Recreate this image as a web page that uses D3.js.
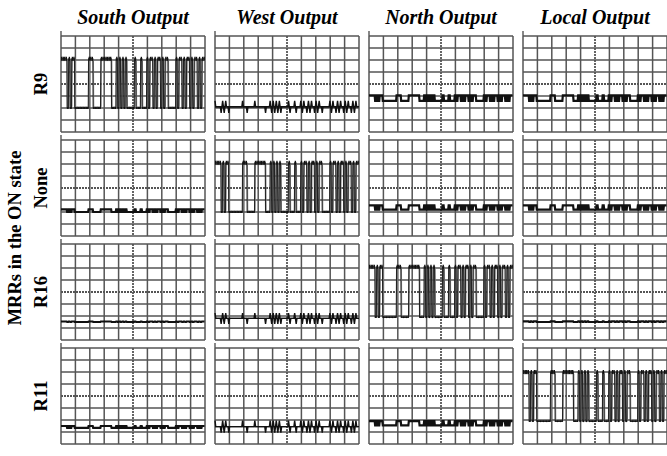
<!DOCTYPE html>
<html><head><meta charset="utf-8">
<script src="https://cdn.jsdelivr.net/npm/d3@7"></script>
<style>body{margin:0;background:#fff}svg{display:block}</style>
</head><body><svg id="c" width="667" height="456"></svg>
<script>
// ---------- data ----------
const columns = ["South Output", "West Output", "North Output", "Local Output"];
const rowLabels = ["R9", "None", "R16", "R11"];
const yTitle = "MRRs in the ON state";
// common data stream (one value per bit slot across the screen)
const bits = [1,1,1,1, 0,1,0,1,1,0, 0,0,0,0,0,0,0,0, 1,1,1, 0,0,0,0,0, 1,1,1,1,1,1,1, 0,0,0,
  1,0,1,0,1,0,1,0,0, 0,0,0,1,0,0,0,1,0,0,0, 1,0,1,1,0,1,0,1,1,0,1,0,1,1, 0,0,0,0,0,
  1,0,1,1,0,1,0,1,1,0,1,0,1,1,0,1,0,1,1];
// trace kind per row (MRR ON) x column (output)
const traceKind = [
  ["on", "spike", "copy", "copy"],
  ["copy", "on", "copy", "copy"],
  ["copy", "spike", "on", "copy"],
  ["copy", "spike", "copy", "on"]];
// low level of each trace, divisions above bottom of screen
const baseLevel = [
  [2.0, 2.1, 2.6, 2.6],
  [2.0, 2.0, 2.2, 2.2],
  [1.5, 1.8, 1.9, 1.5],
  [1.35, 1.45, 1.55, 1.9]];
// swing of each trace, divisions
const swing = [
  [4.1, 0.5, 0.45, 0.45],
  [0.22, 4.1, 0.35, 0.35],
  [0.04, 0.45, 4.2, 0.06],
  [0.15, 0.5, 0.35, 4.1]];
const xDivs = d3.range(11);
const yDivs = d3.range(9);

// ---------- layout ----------
const svg = d3.select("#c");
const colScale = d3.scaleBand().domain(columns).range([61, 667]).paddingInner(10 / 154);
const rowScale = d3.scaleBand().domain(rowLabels).range([36, 444]).paddingInner(8 / 104);
const W = colScale.bandwidth(), H = rowScale.bandwidth();
const gx = d3.scaleLinear().domain([0, 10]).range([0, W]);
const gy = d3.scaleLinear().domain([0, 8]).range([H, 0]);
const tx = d3.scaleLinear().domain([0, bits.length]).range([0, W]);

const serif = "'Liberation Serif','Times New Roman',serif";
const gridColor = "#555";

// column titles
svg.selectAll("text.col").data(columns).join("text")
  .attr("class", "col")
  .attr("x", d => colScale(d) + W / 2).attr("y", 24)
  .attr("text-anchor", "middle")
  .style("font-family", serif).style("font-weight", "bold").style("font-style", "italic")
  .style("font-size", "20px").text(d => d);

// row labels
svg.selectAll("text.row").data(rowLabels).join("text")
  .attr("class", "row")
  .attr("transform", d => `translate(47,${rowScale(d) + H / 2}) rotate(-90)`)
  .attr("text-anchor", "middle")
  .style("font-family", serif).style("font-weight", "bold")
  .style("font-size", "18.5px").text(d => d);

svg.append("text")
  .attr("transform", `translate(21,${238}) rotate(-90)`)
  .attr("text-anchor", "middle")
  .style("font-family", serif).style("font-weight", "bold")
  .style("font-size", "18.5px").text(yTitle);

const line = d3.line().x(d => tx(d[0])).y(d => gy(d[1]));

rowLabels.forEach((r, ri) => {
  columns.forEach((c, ci) => {
    const g = svg.append("g").attr("transform", `translate(${colScale(c)},${rowScale(r)})`);
    // grid
    g.selectAll("line.v").data(xDivs).join("line")
      .attr("x1", d => gx(d)).attr("x2", d => gx(d)).attr("y1", 0).attr("y2", H)
      .attr("stroke", gridColor).attr("stroke-width", d => d === 5 ? 1.8 : 1.5)
      .attr("stroke-dasharray", d => d === 5 ? "2,1" : null);
    g.selectAll("line.h").data(yDivs).join("line")
      .attr("x1", 0).attr("x2", W).attr("y1", d => gy(d)).attr("y2", d => gy(d))
      .attr("stroke", gridColor).attr("stroke-width", d => d === 4 ? 1.8 : 1.5)
      .attr("stroke-dasharray", d => d === 4 ? "2,1" : null);
    g.append("line").attr("x1", 0).attr("x2", 0).attr("y1", -5).attr("y2", 0)
      .attr("stroke", gridColor).attr("stroke-width", 1.4);

    const kind = traceKind[ri][ci];
    const b0 = baseLevel[ri][ci], sw = swing[ri][ci];
    if (kind === "on") {
      const pts = [], ghost = [];
      bits.forEach((b, i) => {
        const lv = b0 + sw * b;
        pts.push([i, lv], [i + 0.8, lv]);
        ghost.push([i + 0.4, lv + (b ? -0.15 : 0.1)], [i + 1.2, lv + (b ? -0.15 : 0.1)]);
      });
      g.append("path").attr("d", line(ghost)).attr("fill", "none")
        .attr("stroke", "#8a8a8a").attr("stroke-width", 1);
      g.append("path").attr("d", line(pts)).attr("fill", "none")
        .attr("stroke", "#222").attr("stroke-width", 1.1);
      // thick noisy high / low rails
      bits.forEach((b, i) => {
        const lv = b0 + sw * b;
        g.append("line").attr("x1", tx(i)).attr("x2", tx(i + 0.9))
          .attr("y1", gy(lv)).attr("y2", gy(lv))
          .attr("stroke", "#111").attr("stroke-width", b ? 4 : 1.8);
      });
    } else if (kind === "copy") {
      const pts = [];
      bits.forEach((b, i) => { const lv = b0 + sw * b; pts.push([i, lv], [i + 0.7, lv]); });
      g.append("path").attr("d", line(pts)).attr("fill", "none")
        .attr("stroke", "#111").attr("stroke-width", 2.2);
    } else {
      const pts = [];
      bits.forEach((b, i) => {
        const prev = i ? bits[i - 1] : 0;
        pts.push([i, b0 + sw * (b - prev)], [i + 0.5, b0]);
      });
      g.append("path").attr("d", line(pts)).attr("fill", "none")
        .attr("stroke", "#111").attr("stroke-width", 1.4);
      g.append("line").attr("x1", 0).attr("x2", W).attr("y1", gy(b0)).attr("y2", gy(b0))
        .attr("stroke", "#111").attr("stroke-width", 1.4);
    }
  });
});
</script></body></html>
